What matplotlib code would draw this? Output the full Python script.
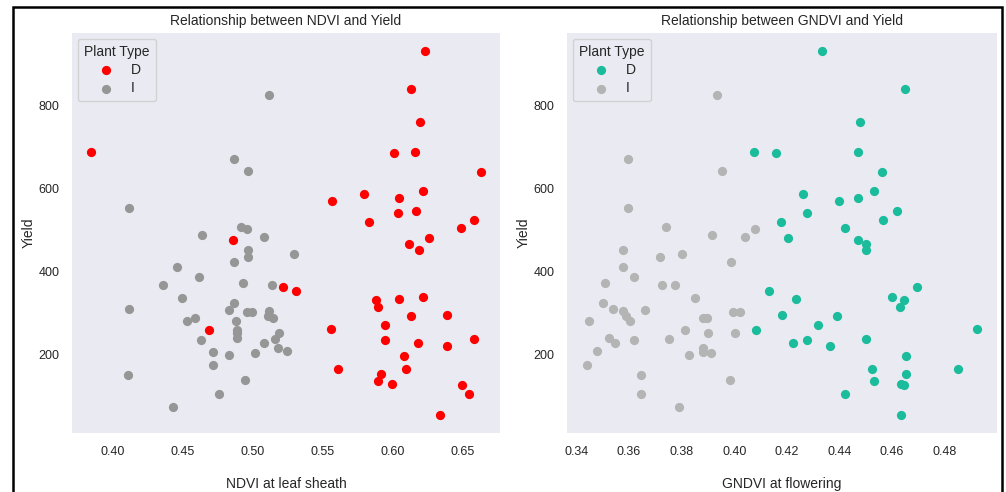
import matplotlib
matplotlib.use("Agg")
import matplotlib.pyplot as plt
import seaborn as sns
from matplotlib.patches import Rectangle

# plant type D (same plants in both panels)
yield_d = [932, 841, 761, 689, 689, 687, 639, 593, 588, 576, 569, 545, 542, 523, 520,
           504, 480, 476, 465, 452, 361, 352, 337, 332, 330, 313, 294, 292, 270, 260,
           258, 236, 234, 227, 219, 195, 164, 164, 152, 135, 128, 125, 104, 53]
ndvi_d = [0.623, 0.613, 0.620, 0.385, 0.616, 0.601, 0.663, 0.622, 0.580, 0.605, 0.557,
          0.617, 0.604, 0.658, 0.583, 0.649, 0.626, 0.486, 0.612, 0.619, 0.522, 0.531,
          0.622, 0.605, 0.588, 0.590, 0.639, 0.613, 0.595, 0.556, 0.469, 0.658, 0.595,
          0.618, 0.639, 0.608, 0.561, 0.610, 0.592, 0.590, 0.600, 0.650, 0.655, 0.634]
gndvi_d = [0.4335, 0.465, 0.448, 0.4077, 0.447, 0.416, 0.4563, 0.453, 0.426, 0.447, 0.440,
           0.462, 0.4275, 0.4567, 0.4176, 0.4423, 0.4206, 0.447, 0.450, 0.450, 0.4697, 0.4134,
           0.460, 0.4233, 0.4646, 0.463, 0.4183, 0.4392, 0.432, 0.4925, 0.4084, 0.450, 0.4275,
           0.4225, 0.4366, 0.4653, 0.4525, 0.4852, 0.4655, 0.4533, 0.4635, 0.4645, 0.442, 0.4636]

# plant type I
yield_i = [826, 672, 643, 554, 506, 501, 487, 484, 451, 441, 434, 422, 410, 386, 371, 366,
           366, 335, 323, 308, 306, 304, 301, 301, 292, 287, 287, 280, 280, 258, 251, 251,
           239, 236, 234, 227, 214, 207, 205, 202, 198, 173, 149, 137, 104, 72]
ndvi_i = [0.512, 0.487, 0.497, 0.412, 0.492, 0.496, 0.464, 0.508, 0.497, 0.530, 0.497, 0.487,
          0.446, 0.462, 0.493, 0.514, 0.436, 0.450, 0.487, 0.412, 0.483, 0.512, 0.496, 0.500,
          0.511, 0.515, 0.459, 0.453, 0.488, 0.489, 0.489, 0.519, 0.489, 0.516, 0.463, 0.508,
          0.518, 0.525, 0.472, 0.502, 0.483, 0.472, 0.411, 0.495, 0.476, 0.443]
gndvi_i = [0.3936, 0.3594, 0.3955, 0.3594, 0.3742, 0.408, 0.3917, 0.404, 0.3575, 0.3803,
           0.3716, 0.3989, 0.3575, 0.3617, 0.351, 0.3727, 0.3776, 0.3849, 0.3499, 0.3537,
           0.3659, 0.3575, 0.3997, 0.402, 0.359, 0.3883, 0.3898, 0.3605, 0.3449, 0.3811,
           0.3902, 0.4001, 0.3522, 0.375, 0.3617, 0.3545, 0.3883, 0.3476, 0.3883, 0.391,
           0.3826, 0.3438, 0.3647, 0.3982, 0.3647, 0.3788]

sns.set_style("dark")
plt.rcParams['font.family'] = ['Liberation Sans', 'DejaVu Sans']
plt.rcParams['xtick.major.size'] = 0
plt.rcParams['ytick.major.size'] = 0

fig = plt.figure(figsize=(10.06, 4.92), dpi=100)
ax1 = fig.add_axes([0.0716, 0.1199, 0.4254, 0.813])
ax2 = fig.add_axes([0.5636, 0.1199, 0.4274, 0.813])

panels = [
    (ax1, ndvi_d, ndvi_i, "#ff0000", "#969696", "NDVI at leaf sheath", "Relationship between NDVI and Yield"),
    (ax2, gndvi_d, gndvi_i, "#1abc9c", "#b4b4b4", "GNDVI at flowering", "Relationship between GNDVI and Yield"),
]
for ax, xd, xi, cd, ci, xlab, title in panels:
    ax.scatter(xd, yield_d, s=44, color=cd, linewidths=0, label="D", zorder=3)
    ax.scatter(xi, yield_i, s=44, color=ci, linewidths=0, label="I", zorder=3)
    ax.set_xlabel(xlab, fontsize=10, labelpad=14)
    ax.set_ylabel("Yield", fontsize=10, labelpad=2)
    ax.set_title(title, fontsize=10)
    ax.set_yticks([200, 400, 600, 800])
    ax.tick_params(labelsize=9, pad=9)
    for sp in ax.spines.values():
        sp.set_visible(False)
    ax.legend(title="Plant Type", loc="upper left", fontsize=10, title_fontsize=10,
              handletextpad=0.8, borderaxespad=0.4, labelspacing=0.3, borderpad=0.45)

ax1.set_xticks([0.40, 0.45, 0.50, 0.55, 0.60, 0.65])
ax2.set_xticks([0.34, 0.36, 0.38, 0.40, 0.42, 0.44, 0.46, 0.48])

# screenshot frame
fig.add_artist(Rectangle((13 / 1006, -0.1), 989 / 1006, 1.1 - 7 / 492,
                         transform=fig.transFigure, fill=False, lw=1.8, color="black"))

fig.savefig("out.png", dpi=100)
